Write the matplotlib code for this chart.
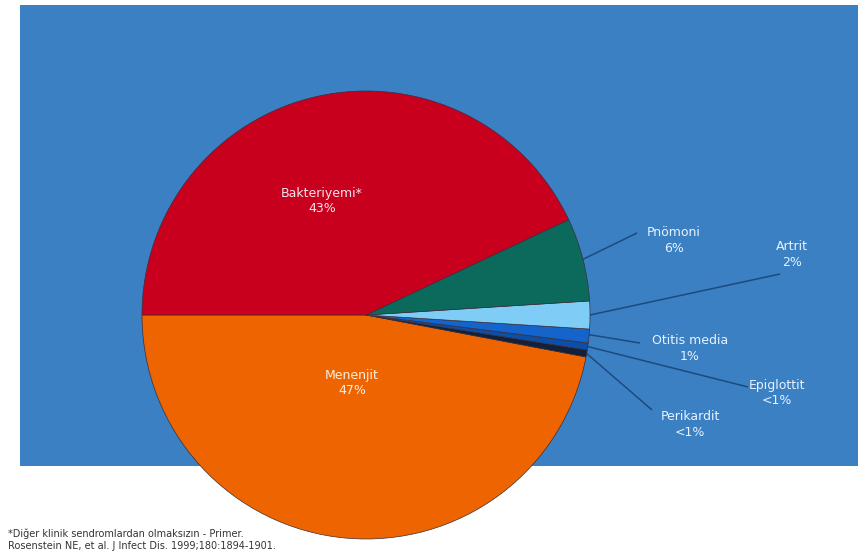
import numpy as np
import matplotlib.pyplot as plt
from matplotlib.patches import Rectangle

# Dağılım (%) - saat yönünün tersine, soldan başlayarak
etiketler = ['Menenjit', 'Perikardit', 'Epiglottit', 'Otitis media', 'Artrit', 'Pnömoni', 'Bakteriyemi*']
degerler = [47, 0.5, 0.5, 1, 2, 6, 43]
yazilar = ['47%', '<1%', '<1%', '1%', '2%', '6%', '43%']
renkler = ['#EE6400', '#14203A', '#0B4FA8', '#1464CC', '#7FCDF7', '#0B6A5C', '#C8001E']

W, H = 863, 551
fig = plt.figure(figsize=(W / 100, H / 100), dpi=100)
fig.patch.set_facecolor('white')
ax = fig.add_axes([0, 0, 1, 1])

# mavi zemin
ax.add_patch(Rectangle((20, H - 466), 838, 461, facecolor='#3A80C2', edgecolor='none', zorder=0))

merkez = (366, H - 315)
r = 224
wedges, _ = ax.pie(degerler, colors=renkler, startangle=180, counterclock=True,
                   center=merkez, radius=r, normalize=True,
                   wedgeprops=dict(edgecolor='#3a2f3a', linewidth=0.5))
for w in wedges:
    w.set_zorder(2)
    w.set_clip_on(False)

ax.set_xlim(0, W)
ax.set_ylim(0, H)
ax.set_aspect('equal')
ax.axis('off')

yazi_renk = '#E8F2FF'
# dilim içi etiketler
ax.text(322, H - 201, etiketler[6] + '\n' + yazilar[6], ha='center', va='center',
        color='#F3E6EA', fontsize=9, linespacing=1.3, zorder=3)
ax.text(352, H - 383, etiketler[0] + '\n' + yazilar[0], ha='center', va='center',
        color='#FBEFE4', fontsize=9, linespacing=1.3, zorder=3)

# dış etiketler ve kılavuz çizgileri
dis = {
    'Pnömoni': ((674, 241), (637, 233), 0.0),
    'Artrit': ((792, 255), (780, 274), 0.0),
    'Otitis media': ((690, 348), (640, 343), 0.6),
    'Epiglottit': ((777, 393), (748, 387), 0.5),
    'Perikardit': ((690, 425), (652, 410), 0.5),
}
for i, ad in enumerate(etiketler):
    if ad not in dis:
        continue
    (tx, ty), (lx, ly), f = dis[ad]
    w = wedges[i]
    aci = np.deg2rad(w.theta1 + (w.theta2 - w.theta1) * (f if f else 0.5))
    px = merkez[0] + r * np.cos(aci)
    py = merkez[1] + r * np.sin(aci)
    ax.plot([px, lx], [py, H - ly], color='#1D4A80', lw=1.1, zorder=1,
            solid_capstyle='butt')
    ax.text(tx, H - ty, ad + '\n' + yazilar[i], ha='center', va='center',
            color=yazi_renk, fontsize=9, linespacing=1.3, zorder=3)

# dipnot
fig.text(8 / W, 1 - 534 / H, '*Diğer klinik sendromlardan olmaksızın - Primer.',
         fontsize=7, color='#333333', va='center')
fig.text(8 / W, 1 - 546 / H, 'Rosenstein NE, et al. J Infect Dis. 1999;180:1894-1901.',
         fontsize=7, color='#333333', va='center')

fig.savefig('out.png', dpi=100)
